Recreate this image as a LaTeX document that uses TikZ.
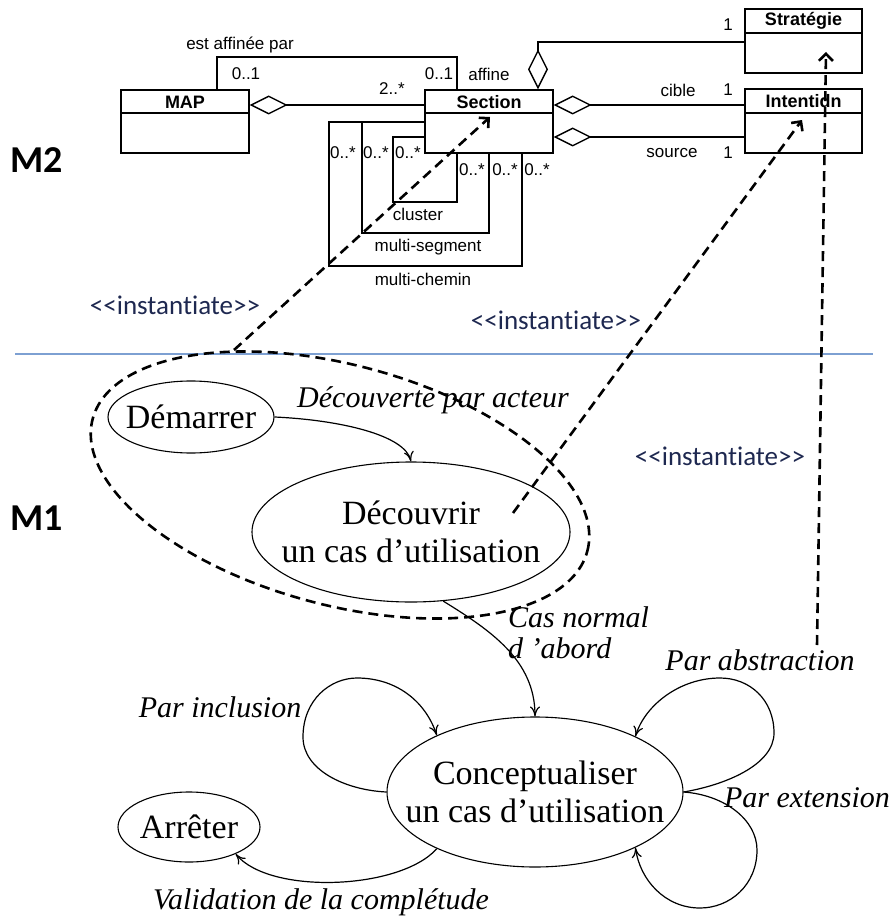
\documentclass[tikz,border=0pt]{standalone}
\usepackage{fontspec}
\setmainfont{Liberation Serif}
\newfontfamily\umlfont{Liberation Sans}
\newfontfamily\calibfont[Ligatures=NoCommon]{Carlito}
\usetikzlibrary{arrows.meta,shapes.geometric}
\definecolor{instnavy}{RGB}{30,40,80}
\definecolor{seplineblue}{RGB}{125,160,210}

\begin{document}
\begin{tikzpicture}[x=1pt,y=-1pt,
  classbox/.style={draw, line width=1.4pt, fill=white, inner sep=0pt, rectangle},
  umltext/.style={font=\umlfont\fontsize{17}{19}\selectfont, inner sep=0pt},
  umlhead/.style={font=\umlfont\bfseries\fontsize{18}{20}\selectfont, inner sep=0pt},
  assoc/.style={line width=1.4pt},
  aggr/.style={assoc, {Diamond[open, length=38pt, width=19pt]}-},
  instlabel/.style={font=\calibfont\fontsize{27}{30}\selectfont, text=instnavy, inner sep=0pt},
  levellabel/.style={font=\calibfont\bfseries\fontsize{38}{40}\selectfont, inner sep=0pt},
  instarrow/.style={line width=2.6pt, dash pattern=on 10pt off 6pt, -{Straight Barb[length=7pt, width=14pt]}},
  usecase/.style={ellipse, draw, line width=1.1pt, fill=white, inner sep=0pt},
  casetext/.style={font=\fontsize{34}{38}\selectfont, align=center, inner sep=0pt},
  flowlabel/.style={font=\itshape\fontsize{30}{32}\selectfont, inner sep=0pt},
  flow/.style={line width=1.2pt, -{Computer Modern Rightarrow[length=10pt, width=10pt]}},
]
\useasboundingbox (0,0) rectangle (889,917);

% ---------- level separator ----------
\coordinate (sepL) at (15,354);
\coordinate (sepR) at (873,354);
\draw[seplineblue, line width=1.5pt] (sepL) -- (sepR);

\node[levellabel] (m2) at (37,160) {M2};
\node[levellabel] (m1) at (37,518) {M1};

% ---------- M2 : class diagram ----------
\node[classbox, minimum width=128, minimum height=63] (map) at (185,121.5) {};
\draw[assoc] (map.west |- 0,113) -- (map.east |- 0,113);
\node[umlhead] (mapT) at (185,102) {MAP};

\node[classbox, minimum width=128, minimum height=63] (sec) at (489,121.5) {};
\draw[assoc] (sec.west |- 0,113) -- (sec.east |- 0,113);
\node[umlhead] (secT) at (489,102) {Section};

\node[classbox, minimum width=117, minimum height=64] (strat) at (803.5,41) {};
\draw[assoc] (strat.west |- 0,33) -- (strat.east |- 0,33);
\node[umlhead] (stratT) at (803.5,21) {Stratégie};

\node[classbox, minimum width=117, minimum height=64] (int) at (803.5,121) {};
\draw[assoc] (int.west |- 0,113) -- (int.east |- 0,113);
\node[umlhead] (intT) at (803.5,101) {Intentidn};

% refinement association
\draw[assoc] (map.north -| 217,0) -- (217,57) -- (457,57) -- (sec.north -| 457,0);
\node[umltext] (lRef) at (240,45) {est affinée par};
\node[umltext] (mRef1) at (246,74) {0..1};
\node[umltext] (mRef2) at (439,74) {0..1};
\node[umltext] (lAff) at (489,74) {affine};

% aggregations
\draw[aggr] (map.east |- 0,105) -- (sec.west |- 0,105);
\node[umltext] (mSec) at (392,89) {2..*};

\draw[assoc, {Diamond[open, length=40pt, width=20pt]}-] (sec.north -| 538,0) -- (538,42) -- (strat.west |- 0,42);
\node[umltext] (mStr) at (728,25) {1};

\draw[aggr] (sec.east |- 0,105) -- (int.west |- 0,105);
\node[umltext] (lCib) at (678,90) {cible};
\node[umltext] (mCib) at (728,90) {1};

\draw[aggr] (sec.east |- 0,137) -- (int.west |- 0,137);
\node[umltext] (lSrc) at (672,153) {source};
\node[umltext] (mSrc) at (728,153) {1};

% reflexive associations of Section
\coordinate (segJ) at (362,122);
\draw[assoc] (sec.west |- 0,137) -- (393,137) -- (393,202) -- (457,202) -- (sec.south -| 457,0);
\draw[assoc] (sec.west |- 0,122) -- (segJ) -- (362,233) -- (489,233) -- (sec.south -| 489,0);
\draw[assoc] (segJ) -- (329,122) -- (329,266) -- (522,266) -- (sec.south -| 522,0);
\node[umltext] (c1) at (343,153) {0..*};
\node[umltext] (c2) at (376,153) {0..*};
\node[umltext] (c3) at (408,153) {0..*};
\node[umltext] (c4) at (472,170) {0..*};
\node[umltext] (c5) at (505,170) {0..*};
\node[umltext] (c6) at (537,170) {0..*};
\node[umltext] (lClu) at (418,214) {cluster};
\node[umltext] (lSeg) at (428,247) {multi-segment};
\node[umltext] (lChe) at (423,279) {multi-chemin};

% ---------- M1 : map ----------
\node[draw, ellipse, rotate=-15, minimum width=512, minimum height=240, inner sep=0pt,
      line width=2.6pt, dash pattern=on 10pt off 6pt] (grp) at (340,485) {};

\node[usecase, minimum width=166, minimum height=72] (dem) at (191,417) {};
\node[casetext] (demT) at (dem) {Démarrer};
\node[usecase, minimum width=318, minimum height=140] (dec) at (411,532) {};
\node[casetext] (decT) at (dec) {Découvrir\\un cas d’utilisation};
\node[usecase, minimum width=296, minimum height=150] (con) at (535,792) {};
\node[casetext] (conT) at (con) {Conceptualiser\\un cas d’utilisation};
\node[usecase, minimum width=142, minimum height=70] (arr) at (189,827) {};
\node[casetext] (arrT) at (arr) {Arrêter};

% strategies
\draw[flow] (dem.east) .. controls (340,420) and (405,435) .. (dec.north);
\draw[flow] (dec.-65) .. controls (490,630) and (535,660) .. (con.north);
\draw[flow] (con.west) .. controls (345,790) and (303,770) .. (303,737)
  .. controls (303,700) and (330,678) .. (357,678)
  .. controls (395,678) and (425,700) .. (con.150);
\draw[flow] (con.east) .. controls (725,785) and (774,765) .. (774,733)
  .. controls (774,700) and (750,678) .. (720,678)
  .. controls (680,678) and (645,705) .. (con.29);
\draw[flow] (con.east) .. controls (725,795) and (757,820) .. (757,850)
  .. controls (757,885) and (730,908) .. (700,908)
  .. controls (665,908) and (640,880) .. (con.-29);
\draw[flow] (con.210) .. controls (400,890) and (270,895) .. (arr.-30);

\node[flowlabel] (lDec) at (433,400) {Découverte par acteur};
\node[flowlabel, anchor=west] (lCas1) at (508,617) {Cas normal};
\node[flowlabel, anchor=west] (lCas2) at (508,648) {d ’abord};
\node[flowlabel] (lAbs) at (760,660) {Par abstraction};
\node[flowlabel] (lExt) at (807,798) {Par extension};
\node[flowlabel] (lInc) at (220,707) {Par inclusion};
\node[flowlabel, anchor=west] (lVal) at (153,902) {Validation de la complétude};

% ---------- instantiation links ----------
\coordinate (grpTop) at (234,350);
\coordinate (secIn) at (490,117);
\coordinate (decIn) at (513,513);
\coordinate (intIn) at (802,120);
\coordinate (absTop) at (817,645);
\coordinate (stratIn) at (826,52);
\draw[instarrow] (grpTop) -- (secIn);
\draw[instarrow] (decIn) -- (intIn);
\draw[instarrow] (absTop) -- (stratIn);

\node[instlabel] (i1) at (175,305) {<<instantiate>>};
\node[instlabel] (i2) at (556,320) {<<instantiate>>};
\node[instlabel] (i3) at (720,456) {<<instantiate>>};

\end{tikzpicture}
\end{document}
